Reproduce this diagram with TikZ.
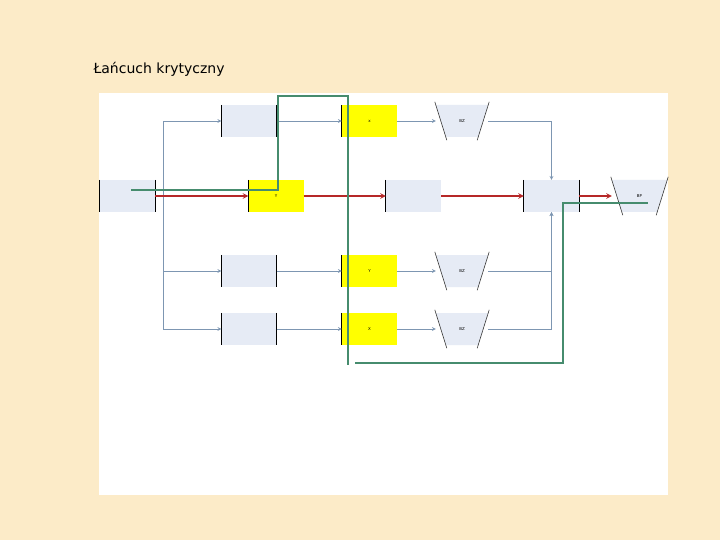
\documentclass[tikz,border=0pt]{standalone}
\usepackage{fontspec}
\setmainfont{DejaVu Sans}
\usetikzlibrary{calc}

\definecolor{slidebg}{RGB}{252,235,200}
\definecolor{taskblue}{RGB}{230,235,245}
\definecolor{feedgray}{RGB}{125,150,178}
\definecolor{chainred}{RGB}{182,40,40}
\definecolor{bufgreen}{RGB}{70,140,110}
\definecolor{crityellow}{RGB}{255,255,0}

\tikzset{
  task/.style={fill=taskblue, minimum width=55pt, minimum height=32pt, inner sep=0pt, font=\fontsize{4}{5}\selectfont},
  crit/.style={task, fill=crityellow},
  buffer/.style={minimum width=52pt, minimum height=32pt, inner sep=0pt, font=\fontsize{4}{5}\selectfont,
    path picture={\fill[taskblue] (path picture bounding box.north west)
      -- ([xshift=10pt]path picture bounding box.south west)
      -- ([xshift=-10pt]path picture bounding box.south east)
      -- (path picture bounding box.north east) -- cycle;}},
  edge/.style={line width=1.3pt, black},
  bufside/.style={line width=0.6pt, black!80},
  feed/.style={->, feedgray, line width=0.7pt},
  chain/.style={->, chainred, line width=1.4pt},
  bufline/.style={bufgreen, line width=1.6pt}
}

\begin{document}
\begin{tikzpicture}[x=1pt, y=-1pt, >=stealth]

\useasboundingbox (0,0) rectangle (720,540);
\fill[slidebg] (0,0) rectangle (720,540);
\fill[white] (99,93) rectangle (668,495);

% title
\node[anchor=west, font=\fontsize{14}{16}\selectfont] (title) at (90,69) {Łańcuch krytyczny};

% ============================
% Tasks
% ============================
\node[task] (start) at (127.5,196) {};

\node[task] (taskA) at (249,121) {};
\node[crit] (x1)    at (369.5,121) {x};
\node[buffer] (bz1) at (462,121) {BZ};

\node[crit] (y2)    at (276,196) {Y};
\node[task] (task2) at (413.5,196) {};
\node[task] (merge) at (551.5,196) {};
\node[buffer, minimum width=55pt] (bp) at (639.5,196) {BP};

\node[task] (taskC) at (249,271) {};
\node[crit] (x3)    at (369.5,271) {Y};
\node[buffer] (bz3) at (462,271) {BZ};

\node[task] (taskD) at (249,329) {};
\node[crit] (x4)    at (369.5,329) {X};
\node[buffer] (bz4) at (462,329) {BZ};

% black edges on the boxes
\foreach \n in {start,taskA,taskC,taskD,merge}{
  \draw[edge] (\n.north west) -- (\n.south west);
  \draw[edge] (\n.north east) -- (\n.south east);
}
\foreach \n in {x1,x3,x4,y2,task2}{
  \draw[edge] (\n.north west) -- (\n.south west);
}

% slanted sides of the buffers
\foreach \n in {bz1,bz3,bz4,bp}{
  \draw[bufside] ([shift={(-1pt,3pt)}]\n.north west) -- ([shift={(11pt,-3pt)}]\n.south west);
  \draw[bufside] ([shift={(1pt,3pt)}]\n.north east) -- ([shift={(-11pt,-3pt)}]\n.south east);
}

% ============================
% Feeding chains
% ============================
\coordinate (split) at (163,196);
\draw[feedgray, line width=0.7pt] (start.east) -- (split);
\draw[feed] (split) |- (taskA.west);
\draw[feed] (split) |- (taskC.west);
\draw[feed] (split) |- (taskD.west);

\draw[feed] (taskA) -- (x1);
\draw[feed] (x1) -- (bz1.west);
\draw[feed] (taskC) -- (x3);
\draw[feed] (x3) -- (bz3.west);
\draw[feed] (taskD) -- (x4);
\draw[feed] (x4) -- (bz4.west);

\draw[feed] (bz1.east) -| (merge.north);
\draw[feed] (bz3.east) -| (merge.south);
\draw[feed] (bz4.east) -| (merge.south);

% ============================
% Critical chain
% ============================
\draw[chain] (start.east) -- (y2.west);
\draw[chain] (y2) -- (task2);
\draw[chain] (task2) -- (merge);
\draw[chain] (merge) -- (bp.west);

% ============================
% Buffer line
% ============================
\coordinate (gstart) at (131,190);
\coordinate (gend)   at (648,203);
\draw[bufline] (gstart) -- (278,190) -- (278,96) -- (348,96) -- (348,365);
\draw[bufline] (355,363) -- (563,363) -- (563,203) -- (gend);

\end{tikzpicture}
\end{document}
